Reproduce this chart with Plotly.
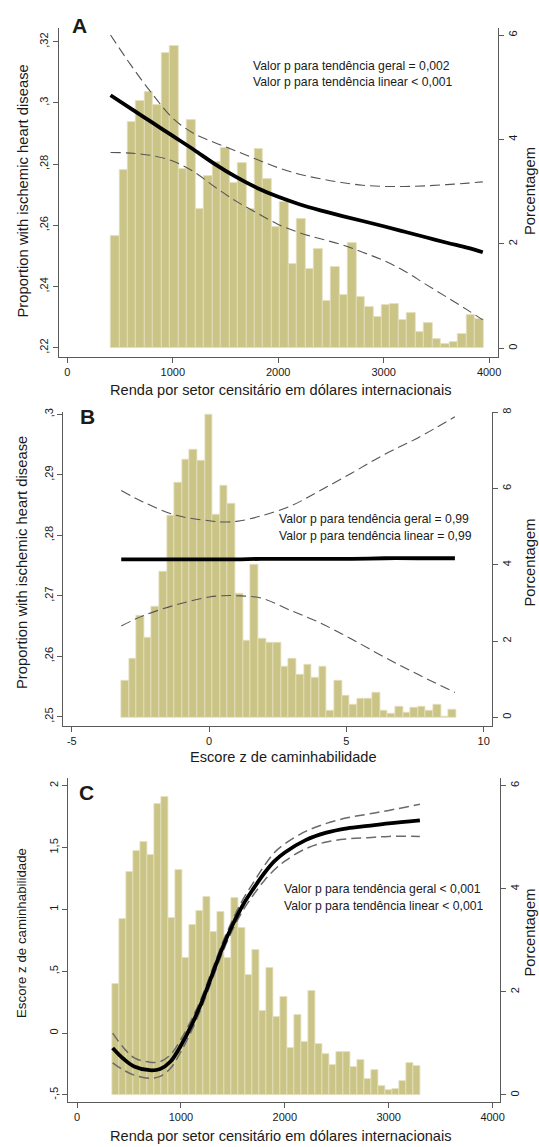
import plotly.graph_objects as go

W, H = 539, 1147

# ------------------------------------------------------------------ data
# Histogram (percentage of census tracts) of income - 44 bins (used in A and C)
income_pct = [2.15, 3.42, 4.33, 4.73, 4.90, 4.66, 5.65, 5.79, 3.44, 4.37,
              2.66, 3.30, 3.56, 3.84, 3.16, 3.55, 2.66, 3.82, 3.24, 2.32,
              2.81, 1.62, 2.47, 1.51, 1.91, 0.91, 1.56, 1.02, 2.01, 0.98,
              0.80, 0.59, 0.83, 0.84, 0.54, 0.68, 0.31, 0.49, 0.18, 0.09,
              0.12, 0.27, 0.63, 0.56]
income_bin_start_A = 412.0
income_bin_width_A = 80.3
income_bin_start_C = 340.0
income_bin_width_C = 67.4

# Histogram (percentage) of walkability z-score - 44 bins (panel B)
walk_pct = [0.95, 1.55, 2.67, 2.09, 2.89, 3.82, 5.28, 6.15, 6.75, 7.03,
            6.73, 7.95, 5.31, 6.07, 5.60, 3.23, 2.02, 3.99, 2.07, 1.97,
            1.96, 1.32, 1.53, 1.11, 1.39, 1.04, 1.33, 0.17, 0.95, 0.58,
            0.34, 0.48, 0.48, 0.65, 0.17, 0.10, 0.28, 0.13, 0.24, 0.27,
            0.17, 0.34, 0.02, 0.20]
walk_bin_start = -3.20
walk_bin_width = 0.2771

# Panel A: proportion with IHD vs income (spline fit + 95% CI)
A_x = [410, 600, 800, 1000, 1200, 1400, 1600, 1800, 2000, 2200, 2400,
       2600, 2800, 3000, 3200, 3400, 3600, 3800, 3940]
A_fit = [.3025, .2982, .2937, .2892, .2847, .2800, .2758, .2722, .2693, .2669,
         .2649, .2631, .2614, .2597, .2579, .2561, .2543, .2526, .2512]
A_upper = [.3222, .3125, .3032, .2950, .2900, .2870, .2843, .2815, .2788, .2767,
           .2752, .2740, .2731, .2727, .2727, .2729, .2733, .2738, .2742]
A_lower = [.2838, .2836, .2828, .2810, .2775, .2725, .2679, .2640, .2603, .2576,
           .2556, .2537, .2512, .2485, .2450, .2407, .2365, .2322, .2291]

# Panel B: proportion with IHD vs walkability z-score
B_x = [-3.2, -2.4, -1.2, 0.0, 0.5, 1.0, 1.9, 3.0, 4.0, 5.2, 6.4, 7.6, 8.95]
B_fit = [.2760, .2760, .2760, .2760, .2760, .2760, .2761, .2761, .2761, .2761,
         .2762, .2762, .2762]
B_upper = [.2874, .2855, .2833, .2824, .2822, .2823, .2832, .2849, .2873, .2903,
           .2934, .2961, .2996]
B_lower = [.2650, .2667, .2685, .2698, .2700, .2700, .2696, .2675, .2656, .2628,
           .2598, .2570, .2540]

# Panel C: walkability z-score vs income
C_x = [343, 450, 550, 700, 800, 900, 1000, 1100, 1200, 1300, 1400, 1500, 1600,
       1700, 1800, 1900, 2000, 2200, 2400, 2600, 2800, 3000, 3300]
C_fit = [-0.12, -0.21, -0.27, -0.30, -0.29, -0.23, -0.10, 0.06, 0.25, 0.47, 0.69,
         0.88, 1.04, 1.17, 1.29, 1.39, 1.46, 1.56, 1.62, 1.655, 1.675, 1.695, 1.72]
C_upper = [0.00, -0.12, -0.20, -0.235, -0.23, -0.175, -0.05, 0.105, 0.29, 0.51,
           0.73, 0.92, 1.085, 1.22, 1.35, 1.46, 1.53, 1.63, 1.695, 1.74, 1.77,
           1.80, 1.85]
C_lower = [-0.24, -0.30, -0.34, -0.365, -0.35, -0.285, -0.15, 0.015, 0.21, 0.43,
           0.65, 0.84, 0.995, 1.12, 1.23, 1.32, 1.39, 1.49, 1.545, 1.57, 1.58,
           1.59, 1.59]

# tick labels
A_yticks = [.22, .24, .26, .28, .30, .32]
A_yticktext = [",22", ",24", ",26", ",28", ",3", ",32"]
B_yticks = [.25, .26, .27, .28, .29, .30]
B_yticktext = [",25", ",26", ",27", ",28", ",29", ",3"]
C_yticks = [-0.5, 0, 0.5, 1, 1.5, 2]
C_yticktext = ["-,5", "0", ",5", "1", "1,5", "2"]
income_xticks = [0, 1000, 2000, 3000, 4000]
walk_xticks = [-5, 0, 5, 10]
pct_ticks_6 = [0, 2, 4, 6]
pct_ticks_8 = [0, 2, 4, 6, 8]

p_text_A = ["Valor p para tendência geral = 0,002", "Valor p para tendência linear < 0,001"]
p_text_B = ["Valor p para tendência geral = 0,99", "Valor p para tendência linear = 0,99"]
p_text_C = ["Valor p para tendência geral < 0,001", "Valor p para tendência linear < 0,001"]

# ------------------------------------------------------------------ style
FONT = "Liberation Sans, Arial, sans-serif"
TXT = "#1a1a1a"
AX = "#5a5a5a"
BAR = "#CBC487"
BAR_EDGE = "#E4E0BC"
TICK_SIZE = 11


def fx(px):
    return px / W


def fy(py):
    return 1 - py / H


def centers(start, width, n):
    return [start + width * (i + 0.5) for i in range(n)]


fig = go.Figure()

panels = [
    dict(x="x", yb="y", yo="y2", box=(58.7, 497.7, 28, 357),
         xr=[-81.6, 4081.5], yl=[.21696, .32448], yr=[-0.167, 6.134],
         xt=income_xticks, ylt=A_yticks, yltt=A_yticktext, yrt=pct_ticks_6),
    dict(x="x2", yb="y3", yo="y4", box=(63.3, 491.7, 411.7, 725.7),
         xr=[-5.31, 10.29], yl=[.24851, .30043], yr=[-0.220, 8.016],
         xt=walk_xticks, ylt=B_yticks, yltt=B_yticktext, yrt=pct_ticks_8),
    dict(x="x3", yb="y5", yo="y6", box=(68.3, 500.0, 778, 1102),
         xr=[-83.7, 4071], yl=[-0.557, 2.062], yr=[-0.136, 6.149],
         xt=income_xticks, ylt=C_yticks, yltt=C_yticktext, yrt=pct_ticks_6),
]

hist = [
    (centers(income_bin_start_A, income_bin_width_A, len(income_pct)), income_pct, income_bin_width_A),
    (centers(walk_bin_start, walk_bin_width, len(walk_pct)), walk_pct, walk_bin_width),
    (centers(income_bin_start_C, income_bin_width_C, len(income_pct)), income_pct, income_bin_width_C),
]
curves = [
    (A_x, A_fit, A_upper, A_lower, 1.1, "#555555"),
    (B_x, B_fit, B_upper, B_lower, 1.1, "#555555"),
    (C_x, C_fit, C_upper, C_lower, 1.5, "#6a6a6a"),
]

for p, (hx, hy, hw), (cx, cf, cu, cl, dw, dc) in zip(panels, hist, curves):
    fig.add_trace(go.Bar(x=hx, y=hy, width=hw, xaxis=p["x"], yaxis=p["yb"],
                         marker=dict(color=BAR, line=dict(color=BAR_EDGE, width=0.8)),
                         showlegend=False, hoverinfo="skip"))
    for ys in (cu, cl):
        fig.add_trace(go.Scatter(x=cx, y=ys, mode="lines", xaxis=p["x"], yaxis=p["yo"],
                                 line=dict(color=dc, width=dw, dash="10px,5px", shape="spline"),
                                 showlegend=False, hoverinfo="skip"))
    fig.add_trace(go.Scatter(x=cx, y=cf, mode="lines", xaxis=p["x"], yaxis=p["yo"],
                             line=dict(color="black", width=3.8, shape="spline"),
                             showlegend=False, hoverinfo="skip"))

layout = dict(
    width=W, height=H, template="none",
    paper_bgcolor="white", plot_bgcolor="rgba(0,0,0,0)",
    margin=dict(l=0, r=0, t=0, b=0, pad=0),
    showlegend=False, bargap=0,
    font=dict(family=FONT, color=TXT, size=TICK_SIZE),
)

common_axis = dict(showgrid=False, zeroline=False, showline=True, linecolor=AX,
                   linewidth=1.2, ticks="outside", ticklen=5, tickwidth=1.1,
                   tickcolor=AX, automargin=False, fixedrange=True,
                   tickfont=dict(family=FONT, size=TICK_SIZE, color=TXT))

for p in panels:
    x0, x1, y0, y1 = p["box"]
    xname = "xaxis" if p["x"] == "x" else "xaxis" + p["x"][1:]
    ybname = "yaxis" if p["yb"] == "y" else "yaxis" + p["yb"][1:]
    yoname = "yaxis" + p["yo"][1:]
    layout[xname] = dict(common_axis, domain=[fx(x0), fx(x1)], range=p["xr"],
                         anchor=p["yb"], tickmode="array", tickvals=p["xt"],
                         ticktext=[str(v) for v in p["xt"]])
    layout[ybname] = dict(common_axis, domain=[fy(y1), fy(y0)], range=p["yr"],
                          anchor=p["x"], side="right", tickmode="array",
                          tickvals=p["yrt"], ticktext=[str(v) for v in p["yrt"]],
                          tickangle=-90)
    layout[yoname] = dict(common_axis, range=p["yl"], overlaying=p["yb"],
                          anchor=p["x"], side="left", tickmode="array",
                          tickvals=p["ylt"], ticktext=p["yltt"], tickangle=-90)

fig.update_layout(**layout)

# ------------------------------------------------------------------ text
ann = []


def text(px, py, s, size, xanchor="center", angle=0, bold=False):
    ann.append(dict(x=fx(px), y=fy(py), xref="paper", yref="paper",
                    text=(f"<b>{s}</b>" if bold else s),
                    showarrow=False, xanchor=xanchor, yanchor="middle", textangle=angle,
                    font=dict(family=FONT, size=size, color=TXT)))


# panel letters
text(79.5, 25.5, "A", 21, bold=True)
text(87.0, 416.5, "B", 21, bold=True)
text(86.5, 792.0, "C", 21, bold=True)

# p-value notes
NOTE = 12.2
text(251, 66, p_text_A[0], NOTE, xanchor="left")
text(251, 82, p_text_A[1], NOTE, xanchor="left")
text(277, 519, p_text_B[0], NOTE, xanchor="left")
text(277, 535.5, p_text_B[1], NOTE, xanchor="left")
text(282, 889, p_text_C[0], NOTE, xanchor="left")
text(282, 906, p_text_C[1], NOTE, xanchor="left")

# axis titles
TIT = 14.6
RT = 529.5
text(280.5, 390, "Renda por setor censitário em dólares internacionais", TIT)
text(22, 191.5, "Proportion with ischemic heart disease", 14.8, angle=-90)
text(RT, 191.5, "Porcentagem", 14.8, angle=-90)

text(283.5, 757, "Escore z de caminhabilidade", TIT)
text(22, 563, "Proportion with ischemic heart disease", 14.8, angle=-90)
text(RT, 563, "Porcentagem", 14.8, angle=-90)

text(281, 1136, "Renda por setor censitário em dólares internacionais", TIT)
text(22, 933, "Escore z de caminhabilidade", 13.3, angle=-90)
text(RT, 933, "Porcentagem", 14.8, angle=-90)

fig.update_layout(annotations=ann)

fig.write_html("out.html", config={"displayModeBar": False},
               post_script="document.body.style.margin='0';document.body.style.padding='0';")
